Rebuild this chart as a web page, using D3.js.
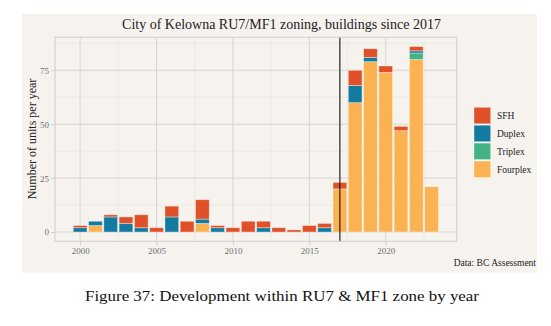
<!DOCTYPE html>
<html><head><meta charset="utf-8">
<script src="https://cdn.jsdelivr.net/npm/d3@7"></script>
<style>body{margin:0;background:#fff}svg{display:block}</style>
</head><body>
<svg id="c" width="551" height="326"></svg>
<script>
const years = [2000,2001,2002,2003,2004,2005,2006,2007,2008,2009,2010,2011,2012,2013,2014,2015,2016,2017,2018,2019,2020,2021,2022,2023];
const sfh      = [1,0,1,3,6,2,5,5,9,1,2,5,3,2,1,3,2,3,7,4,3,2,2,0];
const duplex   = [2,2,7,4,2,0,7,0,2,2,0,0,2,0,0,0,2,0,8,2,0,0,1,0];
const triplex  = [0,0,0,0,0,0,0,0,0,0,0,0,0,0,0,0,0,0,0,0,0,0,3,0];
const fourplex = [0,3,0,0,0,0,0,0,4,0,0,0,0,0,0,0,0,20,60,79,74,47,80,21];
const seriesNames = ["Fourplex","Triplex","Duplex","SFH"];
const legendOrder = ["SFH","Duplex","Triplex","Fourplex"];
const colors = {SFH:"#e0512a", Duplex:"#147ba0", Triplex:"#41b384", Fourplex:"#fbb253"};
const xTicks = [2000,2005,2010,2015,2020];
const yTicks = [0,25,50,75];
const markerYear = 2017;

const table = years.map((y,i)=>({year:y, SFH:sfh[i], Duplex:duplex[i], Triplex:triplex[i], Fourplex:fourplex[i]}));
const stack = d3.stack().keys(seriesNames)(table);

const svg = d3.select("#c");
const bg="#f6f3ef";
svg.append("rect").attr("x",22).attr("y",14).attr("width",515).attr("height",259).attr("fill",bg);

const L=55,R=456.7,T=37.3,B=241.3;
const x = d3.scaleLinear().domain([1998.355,2024.645]).range([L,R]);
const y = d3.scaleLinear().domain([-4.3,90.3]).range([B,T]);

const g = svg.append("g");
[1997.5,2002.5,2007.5,2012.5,2017.5,2022.5].filter(v=>x(v)>L&&x(v)<R).forEach(v=>{
  g.append("line").attr("x1",x(v)).attr("x2",x(v)).attr("y1",T).attr("y2",B).attr("stroke","#e6e3df").attr("stroke-width",0.6);
});
[12.5,37.5,62.5,87.5].forEach(v=>{
  g.append("line").attr("x1",L).attr("x2",R).attr("y1",y(v)).attr("y2",y(v)).attr("stroke","#e6e3df").attr("stroke-width",0.6);
});
xTicks.forEach(v=>{
  g.append("line").attr("x1",x(v)).attr("x2",x(v)).attr("y1",T).attr("y2",B).attr("stroke","#d6d4d1").attr("stroke-width",1);
});
yTicks.forEach(v=>{
  g.append("line").attr("x1",L).attr("x2",R).attr("y1",y(v)).attr("y2",y(v)).attr("stroke","#d6d4d1").attr("stroke-width",1);
});

const bw = x(0.9)-x(0);
stack.forEach(s=>{
  g.selectAll(null).data(s.filter(d=>d[1]-d[0]>0)).enter().append("rect")
    .attr("x",d=>x(d.data.year)-bw/2)
    .attr("width",bw)
    .attr("y",d=>y(d[1]))
    .attr("height",d=>y(d[0])-y(d[1]))
    .attr("fill",colors[s.key])
    .attr("stroke","#ffffff").attr("stroke-opacity",0.45).attr("stroke-width",0.8);
});

g.append("line").attr("x1",x(markerYear)).attr("x2",x(markerYear)).attr("y1",T).attr("y2",B).attr("stroke","#111").attr("stroke-width",1.1);

g.append("rect").attr("x",L).attr("y",T).attr("width",R-L).attr("height",B-T).attr("fill","none").attr("stroke","#cfcdca").attr("stroke-width",1);

const font='"Liberation Serif", Tinos, "Times New Roman", serif';
const xa = svg.append("g").attr("transform",`translate(0,${B})`)
  .call(d3.axisBottom(x).tickValues(xTicks).tickFormat(d3.format("d")).tickSize(4).tickPadding(2));
const ya = svg.append("g").attr("transform",`translate(${L},0)`)
  .call(d3.axisLeft(y).tickValues(yTicks).tickSize(4).tickPadding(2));
[xa,ya].forEach(a=>{
  a.select(".domain").remove();
  a.selectAll("line").attr("stroke","#cfcdca");
  a.selectAll("text").attr("fill","#707070").attr("font-family",font).attr("font-size","9px");
});

svg.append("text").attr("x",281.5).attr("y",28.5).attr("text-anchor","middle")
  .attr("font-family",font).attr("font-size","14px").attr("fill","#222")
  .text("City of Kelowna RU7/MF1 zoning, buildings since 2017");
svg.append("text").attr("transform","translate(35.5,139) rotate(-90)").attr("text-anchor","middle")
  .attr("font-family",font).attr("font-size","12px").attr("fill","#222")
  .text("Number of units per year");
legendOrder.forEach((k,i)=>{
  const yy = 107.3 + i*17.9;
  svg.append("rect").attr("x",474).attr("y",yy).attr("width",16.7).attr("height",16.5)
    .attr("fill",colors[k]).attr("stroke","#ffffff").attr("stroke-opacity",0.45).attr("stroke-width",0.8);
  svg.append("text").attr("x",497).attr("y",yy+11.5)
    .attr("font-family",font).attr("font-size","9.5px").attr("fill","#222").text(k);
});
svg.append("text").attr("x",536).attr("y",266).attr("text-anchor","end")
  .attr("font-family",font).attr("font-size","9.5px").attr("fill","#222").text("Data: BC Assessment");
svg.append("text").attr("x",282).attr("y",300.5).attr("text-anchor","middle")
  .attr("font-family",font).attr("font-size","15.5px").attr("fill","#111")
  .attr("textLength",394).attr("lengthAdjust","spacingAndGlyphs")
  .text("Figure 37: Development within RU7 & MF1 zone by year");
</script>
</body></html>
